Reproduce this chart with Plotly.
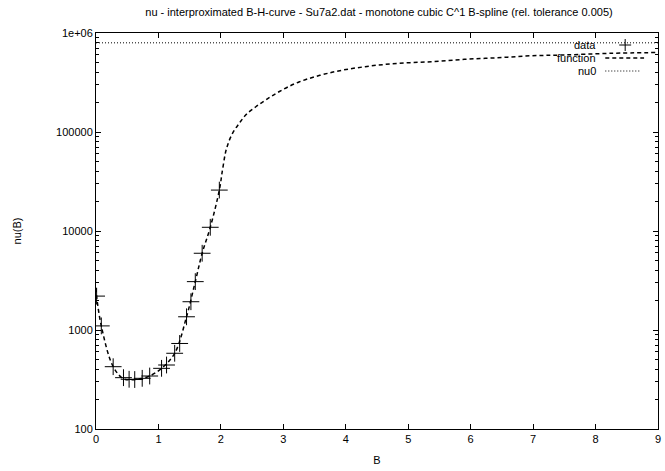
import plotly.graph_objects as go

# ---- data ----
data_B = [0.01, 0.085, 0.275, 0.44, 0.53, 0.62, 0.74, 0.86, 1.05, 1.13,
          1.26, 1.34, 1.45, 1.52, 1.59, 1.70, 1.83, 1.975]
data_nu = [2200, 1100, 426, 330, 318, 316, 325, 343, 410, 443,
           582, 731, 1360, 1930, 3080, 5960, 10900, 25900]

func_B = [0.0, 0.01, 0.085, 0.275, 0.44, 0.58, 0.74, 0.86, 1.05, 1.26,
          1.45, 1.59, 1.70, 1.83, 1.975, 2.03, 2.09, 2.186, 2.293,
          2.40, 2.56, 2.72, 2.93, 3.25, 3.78, 4.31, 4.84, 5.37, 5.90,
          6.43, 6.96, 7.50, 8.23, 9.0]
func_nu = [2650, 2200, 1100, 426, 322, 314, 325, 343, 410, 582,
           1360, 3080, 5960, 10900, 25900, 43000, 68000, 97000, 122000,
           149000, 180000, 211000, 255000, 320000, 401000, 457000, 494000, 513000, 542000,
           562000, 589000, 600000, 623000, 635000]

nu0_B = [0, 9]
nu0_val = [795774.7, 795774.7]

y_tickvals = [100, 1000, 10000, 100000, 1000000]
y_ticktext = ["100", "1000", "10000", "100000", "1e+06"]
x_tickvals = [0, 1, 2, 3, 4, 5, 6, 7, 8, 9]

title_text = "nu - interproximated B-H-curve - Su7a2.dat - monotone cubic C^1 B-spline (rel. tolerance 0.005)"
legend_names = ["data", "function", "nu0"]

# ---- layout geometry (pixels) ----
W, H = 665, 471
L, R, T, B = 96, 661, 33, 429

def px(x):
    return (x - L) / (R - L)

def py(y):
    return (B - y) / (B - T)

FONT = "Liberation Sans, Arial, Helvetica, sans-serif"

fig = go.Figure()
fig.add_trace(go.Scatter(x=nu0_B, y=nu0_val, mode="lines", name="nu0",
                         line=dict(color="black", width=1, dash="1px,2px"),
                         showlegend=False))
fig.add_trace(go.Scatter(x=func_B, y=func_nu, mode="lines", name="function",
                         line=dict(color="black", width=1.5, dash="4px,3px",
                                   shape="spline", smoothing=1.0),
                         showlegend=False))
fig.add_trace(go.Scatter(x=data_B, y=data_nu, mode="markers", name="data",
                         marker=dict(symbol="cross-thin-open", size=12, color="black",
                                     line=dict(color="black", width=1)),
                         showlegend=False))

minor_vals = [m * 10 ** e for e in range(2, 6) for m in range(2, 10)]

fig.update_layout(
    width=W, height=H,
    margin=dict(l=L, r=W - R, t=T, b=H - B, pad=0),
    paper_bgcolor="white", plot_bgcolor="white",
    font=dict(family=FONT, size=11, color="black"),
    title=dict(text=title_text, x=px((L + R) / 2 + 2), xref="paper",
               y=1 - 12 / H, yanchor="middle", yref="container",
               font=dict(size=11, family=FONT, color="black")),
    showlegend=False,
    xaxis=dict(range=[0, 9], tickvals=x_tickvals, ticks="inside", ticklen=5,
               tickcolor="black", showline=True, linecolor="black", linewidth=1,
               mirror="allticks", showgrid=False, zeroline=False,
               title=dict(text="B", standoff=12, font=dict(size=11)),
               tickfont=dict(size=11)),
    yaxis=dict(type="log", range=[2, 6], tickvals=y_tickvals, ticktext=y_ticktext,
               ticks="inside", ticklen=5, tickcolor="black",
               showline=True, linecolor="black", linewidth=1,
               mirror="allticks", showgrid=False, zeroline=False,
               minor=dict(tickvals=minor_vals, ticks="inside", ticklen=3,
                          tickcolor="black", showgrid=False),
               title=dict(text="nu(B)", standoff=32, font=dict(size=11)),
               tickfont=dict(size=11)),
)

# ---- gnuplot-style key: text right-aligned, sample to the right ----
key_rows = [45, 58, 71]
for name, yy in zip(legend_names, key_rows):
    fig.add_annotation(x=px(601), y=py(yy), xref="paper", yref="paper",
                       text=name, showarrow=False, xanchor="right",
                       yanchor="middle", font=dict(size=11, family=FONT, color="black"))

# data sample: plus
fig.add_shape(type="line", xref="paper", yref="paper",
              x0=px(622), x1=px(634), y0=py(key_rows[0]), y1=py(key_rows[0]),
              line=dict(color="black", width=1))
fig.add_shape(type="line", xref="paper", yref="paper",
              x0=px(628), x1=px(628), y0=py(key_rows[0] - 6), y1=py(key_rows[0] + 6),
              line=dict(color="black", width=1))
# function sample: dashed
fig.add_shape(type="line", xref="paper", yref="paper",
              x0=px(608), x1=px(647), y0=py(key_rows[1]), y1=py(key_rows[1]),
              line=dict(color="black", width=1.5, dash="4px,3px"))
# nu0 sample: dotted
fig.add_shape(type="line", xref="paper", yref="paper",
              x0=px(608), x1=px(643), y0=py(key_rows[2]), y1=py(key_rows[2]),
              line=dict(color="black", width=1, dash="1px,2px"))

fig.write_html("out.html")
